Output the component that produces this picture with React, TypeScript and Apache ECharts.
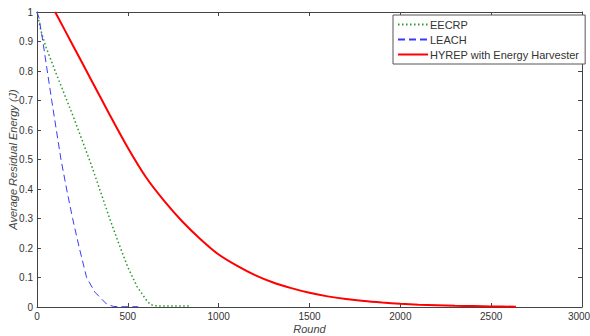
import React, { useEffect, useRef } from "react";
import * as echarts from "echarts";

const xTicks = [0, 500, 1000, 1500, 2000, 2500, 3000];
const yTicks = [0, 0.1, 0.2, 0.3, 0.4, 0.5, 0.6, 0.7, 0.8, 0.9, 1];

const eecrpRounds = [0, 20, 50, 100, 200, 300, 350, 400, 450, 500, 550, 600, 625, 650, 700, 750, 800, 840];
const eecrpEnergy = [1.0, 0.94, 0.88, 0.8, 0.645, 0.48, 0.39, 0.3, 0.215, 0.135, 0.07, 0.025, 0.008, 0.004, 0.003, 0.003, 0.003, 0.003];

const leachRounds = [0, 11, 31, 81, 132, 163, 196, 233, 273, 319, 383, 420, 450, 500, 557];
const leachEnergy = [1.0, 0.98, 0.905, 0.7, 0.5, 0.4, 0.3, 0.2, 0.1, 0.05, 0.01, 0.002, 0.001, 0.001, 0.001];

const hyrepRounds = [100, 200, 300, 400, 500, 600, 700, 800, 900, 1000, 1100, 1200, 1300, 1400, 1500, 1600, 1700, 1800, 1900, 2000, 2100, 2200, 2300, 2400, 2500, 2636];
const hyrepEnergy = [1.0, 0.884, 0.768, 0.652, 0.54, 0.44, 0.36, 0.29, 0.23, 0.178, 0.14, 0.108, 0.083, 0.064, 0.048, 0.036, 0.027, 0.02, 0.015, 0.011, 0.008, 0.006, 0.004, 0.003, 0.002, 0.001];

const zip = (xs: number[], ys: number[]) => xs.map((x, i) => [x, ys[i]]);

export default function App() {
  const ref = useRef<HTMLDivElement>(null);
  useEffect(() => {
    if (!ref.current) return;
    const chart = echarts.init(ref.current, null, { renderer: "svg" });
    const font = "Liberation Sans, Arial, sans-serif";
    const axisColor = "#444";
    const lastX = xTicks[xTicks.length - 1];
    chart.setOption({
      animation: false,
      backgroundColor: "#fff",
      textStyle: { fontFamily: font },
      grid: { left: 37, right: 8, top: 12, bottom: 29, containLabel: false, outerBoundsMode: "none" },
      legend: {
        orient: "vertical",
        left: 393,
        top: 15,
        width: 189,
        itemWidth: 30,
        itemHeight: 10,
        itemGap: 4,
        padding: [4, 6, 4, 4],
        borderColor: "#555",
        borderWidth: 1,
        backgroundColor: "#fff",
        itemStyle: { opacity: 0 },
        textStyle: { fontFamily: font, fontSize: 11, color: "#333", padding: [0, 0, 0, -3] },
        data: ["EECRP", "LEACH", "HYREP with Energy Harvester"],
      },
      xAxis: [
        {
          type: "value",
          min: 0,
          max: 3000,
          interval: 500,
          name: "Round",
          nameLocation: "middle",
          nameGap: 16,
          nameMoveOverlap: false,
          nameTextStyle: { fontStyle: "italic", fontSize: 11, color: "#444", fontFamily: font },
          axisLine: { show: true, lineStyle: { color: axisColor } },
          axisTick: { show: true, inside: true, length: 4, lineStyle: { color: axisColor } },
          axisLabel: {
            fontSize: 10,
            color: "#333",
            margin: 4,
            fontFamily: font,
            formatter: (v: number) => {
              const t = xTicks.find((k) => Math.abs(k - v) < 1e-6) ?? v;
              return t === lastX ? "{r|" + t + "}" : String(t);
            },
            rich: { r: { fontSize: 10, color: "#333", fontFamily: font, padding: [0, 6, 0, 0] } },
          },
          splitLine: { show: false },
        },
        {
          type: "value",
          position: "top",
          min: 0,
          max: 3000,
          interval: 500,
          axisLine: { show: true, onZero: false, lineStyle: { color: axisColor } },
          axisTick: { show: true, inside: true, length: 4, lineStyle: { color: axisColor } },
          axisLabel: { show: false },
          splitLine: { show: false },
        },
      ],
      yAxis: [
        {
          type: "value",
          min: 0,
          max: 1,
          interval: 0.1,
          name: "Average Residual Energy (J)",
          nameLocation: "middle",
          nameGap: 19,
          nameMoveOverlap: false,
          nameTextStyle: { fontStyle: "italic", fontSize: 11, color: "#444", fontFamily: font },
          axisLine: { show: true, lineStyle: { color: axisColor } },
          axisTick: { show: true, inside: true, length: 4, lineStyle: { color: axisColor } },
          axisLabel: {
            fontSize: 10,
            color: "#333",
            margin: 4,
            fontFamily: font,
            formatter: (v: number) => {
              const t = yTicks.find((k) => Math.abs(k - v) < 1e-6);
              const val = t === undefined ? v : t;
              return val === 0 ? "0" : val === 1 ? "1" : val.toFixed(1);
            },
          },
          splitLine: { show: false },
        },
        {
          type: "value",
          position: "right",
          min: 0,
          max: 1,
          interval: 0.1,
          axisLine: { show: true, onZero: false, lineStyle: { color: axisColor } },
          axisTick: { show: true, inside: true, length: 4, lineStyle: { color: axisColor } },
          axisLabel: { show: false },
          splitLine: { show: false },
        },
      ],
      series: [
        {
          name: "EECRP",
          type: "line",
          symbol: "none",
          data: zip(eecrpRounds, eecrpEnergy),
          lineStyle: { color: "#2a9a2a", width: 1.5, type: [1.5, 2.5] },
          itemStyle: { color: "#2a9a2a" },
        },
        {
          name: "LEACH",
          type: "line",
          symbol: "none",
          data: zip(leachRounds, leachEnergy),
          lineStyle: { color: "#3a3aff", width: 1, type: [7, 4] },
          itemStyle: { color: "#3a3aff" },
        },
        {
          name: "HYREP with Energy Harvester",
          type: "line",
          symbol: "none",
          smooth: 0.3,
          data: zip(hyrepRounds, hyrepEnergy),
          lineStyle: { color: "#ff0000", width: 2 },
          itemStyle: { color: "#ff0000" },
        },
      ],
    });
    return () => chart.dispose();
  }, []);
  return <div ref={ref} style={{ position: "fixed", left: 0, top: 0, width: 590, height: 336 }} />;
}
